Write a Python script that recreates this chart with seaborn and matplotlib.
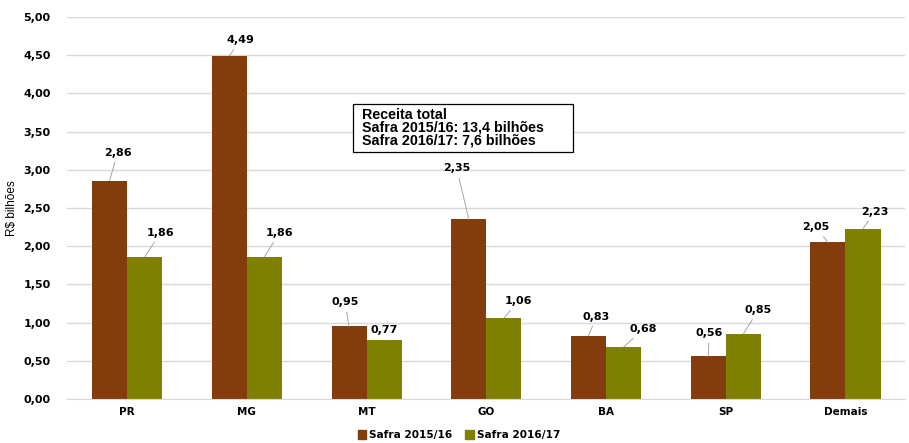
import matplotlib
matplotlib.use("Agg")
import matplotlib.pyplot as plt
import pandas as pd
import seaborn as sns

estados = ["PR", "MG", "MT", "GO", "BA", "SP", "Demais"]
safra_1516 = [2.86, 4.49, 0.95, 2.35, 0.83, 0.56, 2.05]
safra_1617 = [1.86, 1.86, 0.77, 1.06, 0.68, 0.85, 2.23]
series = ["Safra 2015/16", "Safra 2016/17"]
cores = ["#843C0C", "#7F7F00"]
yticks = [0, 0.5, 1.0, 1.5, 2.0, 2.5, 3.0, 3.5, 4.0, 4.5, 5.0]

# label offsets in pixels (dx, dy) for each bar label
off_1516 = [(8, 28), (11, 16), (-4, 24), (-12, 51), (8, 19), (1, 23), (-12, 15)]
off_1617 = [(16, 24), (15, 24), (0, 10), (15, 17), (20, 18), (15, 24), (12, 17)]

df = pd.DataFrame({
    "estado": estados * 2,
    "valor": safra_1516 + safra_1617,
    "safra": [series[0]] * len(estados) + [series[1]] * len(estados),
})

sns.set_style("white")
plt.rcParams["text.color"] = "black"
plt.rcParams["xtick.color"] = "black"
plt.rcParams["ytick.color"] = "black"
fig = plt.figure(figsize=(9.09, 4.43), dpi=100)
ax = fig.add_axes([0.074, 0.0993, 0.922, 0.8623])

sns.barplot(data=df, x="estado", y="valor", hue="safra", palette=cores,
            saturation=1, width=0.585, linewidth=0, ax=ax, legend=False)

ax.set_ylim(0, 5)
ax.set_xlim(-0.5, len(estados) - 0.5)
ax.set_yticks(yticks)
ax.set_yticklabels([f"{v:.2f}".replace(".", ",") for v in yticks],
                   fontsize=8, fontweight="bold")
ax.set_xticks(range(len(estados)))
ax.set_xticklabels(estados, fontsize=7.5, fontweight="bold")
ax.tick_params(axis="both", length=0, pad=12)
ax.tick_params(axis="x", pad=6)
ax.grid(axis="y", color="#D9D9D9", lw=1)
ax.set_axisbelow(True)
for s in ["top", "right", "left"]:
    ax.spines[s].set_visible(False)
ax.spines["bottom"].set_color("#D9D9D9")
ax.set_xlabel("")
ax.set_ylabel("R$ bilhões", fontsize=8.5, family="Liberation Sans", labelpad=4,
              color="black")

for cont, offs, vals in zip(ax.containers, [off_1516, off_1617], [safra_1516, safra_1617]):
    for bar, (dx, dy), v in zip(cont, offs, vals):
        x = bar.get_x() + bar.get_width() / 2
        ax.annotate(f"{v:.2f}".replace(".", ","), xy=(x, bar.get_height()),
                    xytext=(dx, dy), textcoords="offset pixels",
                    ha="center", va="center", fontsize=8, fontweight="bold",
                    color="black",
                    arrowprops=dict(arrowstyle="-", color="#A6A6A6", lw=0.7,
                                    shrinkA=1, shrinkB=0))

# text box with totals
ax.add_patch(plt.Rectangle((0.341, 0.647), 0.262, 0.125, transform=ax.transAxes,
                           fc="white", ec="black", lw=0.9, zorder=5))
ax.text(0.352, 0.762,
        "Receita total\nSafra 2015/16: 13,4 bilhões\nSafra 2016/17: 7,6 bilhões",
        transform=ax.transAxes, family="Liberation Sans", fontweight="bold",
        fontsize=10.3, va="top", ha="left", linespacing=0.9, color="black",
        zorder=6)

handles = [plt.Rectangle((0, 0), 1, 1, color=c) for c in cores]
fig.legend(handles, series, loc="lower center", bbox_to_anchor=(0.505, -0.015),
           ncol=2, frameon=False, prop={"size": 7.6, "weight": "bold"},
           handlelength=0.8, handleheight=0.8, handletextpad=0.3, columnspacing=1.2)

fig.savefig("out.png", dpi=100)
